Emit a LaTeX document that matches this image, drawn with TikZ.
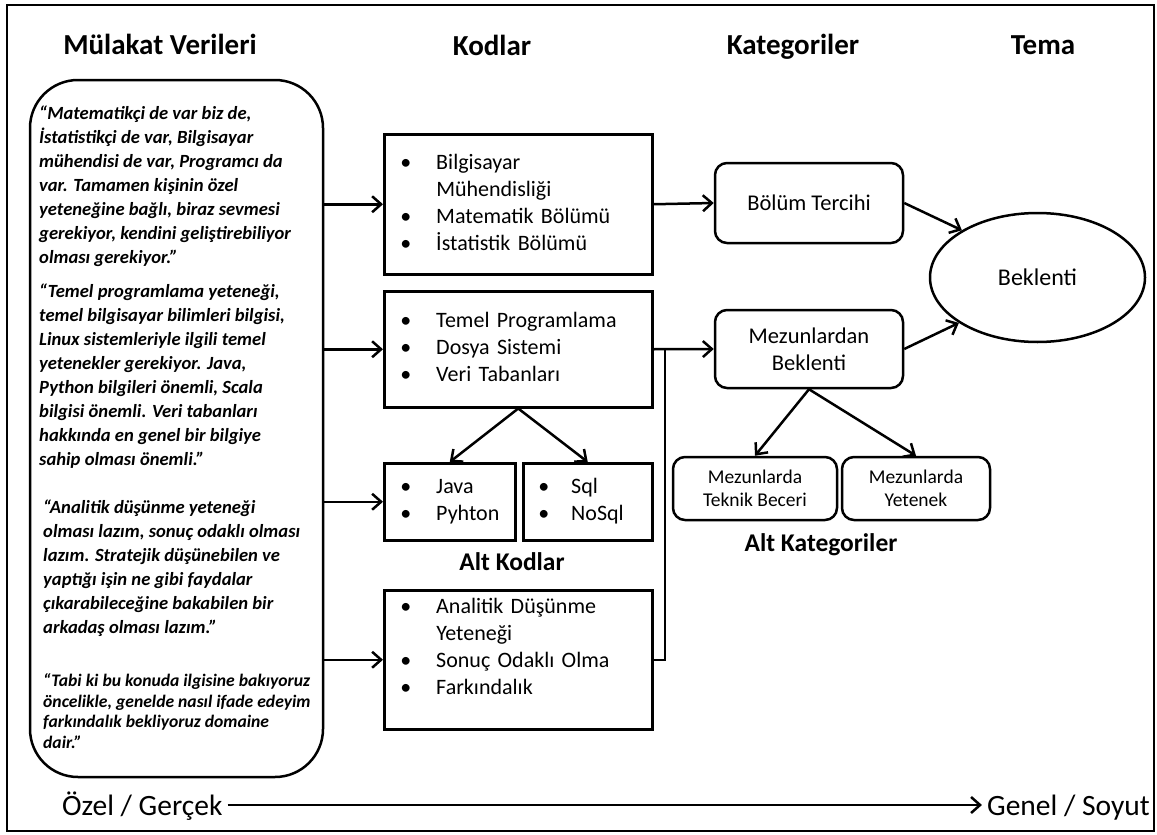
\documentclass[tikz,border=0pt]{standalone}
\usepackage{fontspec}
\setmainfont{Carlito}
\usepackage{tikz}
\usetikzlibrary{shapes.geometric,arrows.meta}

\begin{document}
\begin{tikzpicture}
[%%%%%%%%%%%%%%%%%%%%%%%%%%%%%%
x=1pt,y=-1pt,
baslik/.style={anchor=base,font=\bfseries\fontsize{29}{34}\selectfont},
altbaslik/.style={font=\bfseries\fontsize{25.5}{30}\selectfont},
alinti/.style={anchor=west,align=left,inner sep=0pt,font=\bfseries\itshape\fontsize{18.6}{24}\selectfont},
veri/.style={rectangle,draw=black,line width=2.5pt,rounded corners=48pt,minimum width=293pt,minimum height=697pt},
kutu/.style={rectangle,draw=black,line width=2.5pt,anchor=north west,inner xsep=16pt,inner ysep=0pt,align=left,font=\fontsize{22}{27}\selectfont},
kat/.style={rectangle,draw=black,line width=2.5pt,rounded corners=12pt,align=center,font=\fontsize{22.5}{27}\selectfont},
altkat/.style={rectangle,draw=black,line width=2.5pt,rounded corners=12pt,align=center,minimum height=63pt,font=\fontsize{19.5}{23}\selectfont},
eksen/.style={inner sep=5pt,text height=24pt,text depth=4pt,font=\fontsize{29.5}{34}\selectfont},
ok/.style={line width=2.5pt,-{Straight Barb[length=9pt,width=16pt,line width=2.5pt]}},
]%%%%%%%%%%%%%%%%%%%%%%%%%%%%%%
\useasboundingbox (0,0) rectangle (1157,835);
\draw[line width=2pt] (7,5) rectangle (1154,831);

\node[baslik] (b1) at (160,54) {Mülakat Verileri};
\node[baslik] (b2) at (492,55) {Kodlar};
\node[baslik] (b3) at (793,54) {Kategoriler};
\node[baslik] (b4) at (1043,54) {Tema};

\node[veri] (veri) at (176.5,428.5) {};
\node[alinti] (q1) at (39,186) {“Matematikçi de var biz de,\\İstatistikçi de var, Bilgisayar\\mühendisi de var, Programcı da\\var. Tamamen kişinin özel\\yeteneğine bağlı, biraz sevmesi\\gerekiyor, kendini geliştirebiliyor\\olması gerekiyor.”};
\node[alinti] (q2) at (39,376) {“Temel programlama yeteneği,\\temel bilgisayar bilimleri bilgisi,\\Linux sistemleriyle ilgili temel\\yetenekler gerekiyor. Java,\\Python bilgileri önemli, Scala\\bilgisi önemli. Veri tabanları\\hakkında en genel bir bilgiye\\sahip olması önemli.”};
\node[alinti] (q3) at (43,568) {“Analitik düşünme yeteneği\\olması lazım, sonuç odaklı olması\\lazım. Stratejik düşünebilen ve\\yaptığı işin ne gibi faydalar\\çıkarabileceğine bakabilen bir\\arkadaş olması lazım.”};
\node[alinti,font=\bfseries\itshape\fontsize{17.6}{20.7}\selectfont] (q4) at (43,711) {“Tabi ki bu konuda ilgisine bakıyoruz\\öncelikle, genelde nasıl ifade edeyim\\farkındalık bekliyoruz domaine\\dair.”};

\node[kutu,text width=236pt,minimum height=140pt] (kod1) at (383,133) {\begin{tabular}{@{}p{36pt}@{}l@{}}\textbullet&Bilgisayar\\&Mühendisliği\\\textbullet&Matematik Bölümü\\\textbullet&İstatistik Bölümü\end{tabular}};
\node[kutu,text width=236pt,minimum height=116pt] (kod2) at (383,290) {\begin{tabular}{@{}p{36pt}@{}l@{}}\textbullet&Temel Programlama\\\textbullet&Dosya Sistemi\\\textbullet&Veri Tabanları\end{tabular}};
\node[kutu,text width=99pt,minimum height=77pt] (java) at (383,462) {\begin{tabular}{@{}p{36pt}@{}l@{}}\textbullet&Java\\\textbullet&Pyhton\end{tabular}};
\node[kutu,text width=99pt,inner xsep=15pt,minimum height=77pt] (sql) at (522,462) {\begin{tabular}{@{}p{33pt}@{}l@{}}\textbullet&Sql\\\textbullet&NoSql\end{tabular}};
\node[altbaslik] (altkod) at (512,562) {Alt Kodlar};
\node[kutu,text width=236pt,minimum height=139pt] (kod4) at (383,589) {\begin{tabular}{@{}p{36pt}@{}l@{}}\textbullet&Analitik Düşünme\\&Yeteneği\\\textbullet&Sonuç Odaklı Olma\\\textbullet&Farkındalık\\[22pt]\end{tabular}};

\node[kat,minimum width=188pt,minimum height=80pt] (bolum) at (809,203) {Bölüm Tercihi};
\node[kat,minimum width=188pt,minimum height=78pt] (mezun) at (809,349) {Mezunlardan\\Beklenti};
\node[altkat,minimum width=164pt] (teknik) at (755,488.5) {Mezunlarda\\Teknik Beceri};
\node[altkat,minimum width=148pt] (yetenek) at (916,488.5) {Mezunlarda\\Yetenek};
\node[altbaslik] (altkat) at (821,545) {Alt Kategoriler};
\node[ellipse,draw=black,line width=2.5pt,minimum width=215pt,minimum height=129pt,inner sep=0pt,font=\fontsize{24}{28}\selectfont] (tema) at (1037.5,277.5) {Beklenti};

\coordinate (birles) at (665,348);

\foreach \k in {kod1,kod2,java,kod4}
\draw[ok] (veri.east |- \k.west) -- (\k.west);
\draw[ok] (kod2.south) -- (java.north);
\draw[ok] (kod2.south) -- (sql.north);
\draw[ok] (kod1.east) -- (bolum.west);
\draw[ok] (kod2.east) -- (mezun.west);
\draw[line width=2.5pt] (kod4.east) -| (birles);
\draw[ok] (bolum.east) -- (tema.148);
\draw[ok] (mezun.east) -- (tema.210);
\draw[ok] (mezun.south) -- (teknik.north);
\draw[ok] (mezun.south) -- (yetenek.north);

\node[eksen,anchor=west] (ozel) at (57,805) {Özel / Gerçek};
\node[eksen,anchor=east] (genel) at (1155,805) {Genel / Soyut};
\draw[ok] (ozel.east) -- (genel.west);
\end{tikzpicture}
\end{document}
